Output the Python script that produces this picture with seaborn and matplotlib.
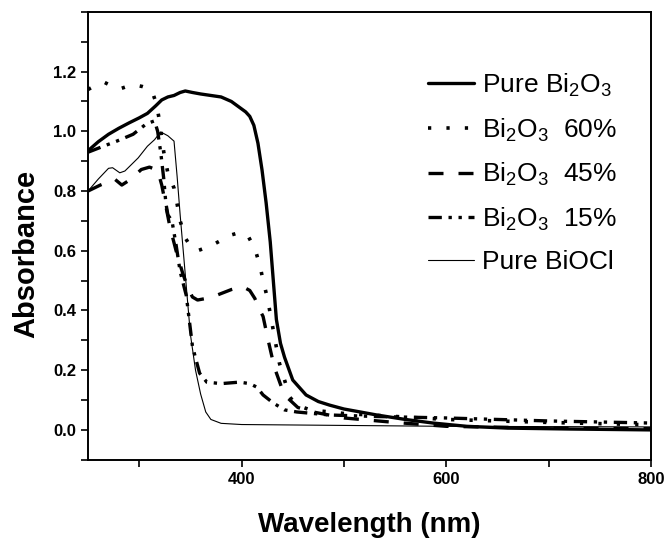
import numpy as np
import pandas as pd
import seaborn as sns
import matplotlib.pyplot as plt
from matplotlib.ticker import MultipleLocator

# UV-vis absorbance, values
wl_pure = [250, 260, 270, 280, 290, 300, 308, 316, 322, 328, 334, 340, 345, 352, 360, 370,
           380, 390, 398, 404, 408, 412, 416, 420, 424, 428, 431, 434, 438, 442, 450, 463,
           475, 486, 500, 532, 560, 587, 620, 660, 720, 800]
abs_pure = [0.935, 0.965, 0.99, 1.01, 1.028, 1.045, 1.06, 1.085, 1.105, 1.115, 1.12, 1.13,
            1.135, 1.13, 1.125, 1.12, 1.115, 1.1, 1.08, 1.065, 1.05, 1.02, 0.96, 0.87, 0.76,
            0.63, 0.5, 0.37, 0.29, 0.243, 0.167, 0.117, 0.095, 0.083, 0.07, 0.05, 0.035,
            0.023, 0.012, 0.006, 0.003, 0.0]

wl_60 = [250, 258, 266, 274, 281, 288, 296, 303, 310, 314, 317, 320, 324, 328, 334, 337,
         340, 345, 350, 357, 365, 372, 380, 387, 395, 401, 407, 413, 418, 421, 425, 428,
         431, 434, 437, 442, 447, 454, 467, 500, 550, 600, 700, 800]
abs_60 = [1.14, 1.155, 1.164, 1.15, 1.142, 1.15, 1.155, 1.15, 1.142, 1.12, 1.09, 1.03, 0.93,
          0.86, 0.81, 0.757, 0.7, 0.643, 0.615, 0.6, 0.61, 0.62, 0.635, 0.65, 0.658, 0.66,
          0.645, 0.607, 0.55, 0.5, 0.445, 0.39, 0.333, 0.277, 0.223, 0.167, 0.11, 0.083,
          0.067, 0.055, 0.045, 0.035, 0.025, 0.017]

wl_45 = [250, 262, 276, 283, 292, 302, 310, 318, 322, 326, 330, 336, 342, 347, 352, 357,
         365, 375, 390, 401, 408, 413, 418, 421, 426, 432, 439, 445, 455, 470, 500, 550,
         600, 700, 800]
abs_45 = [0.8, 0.82, 0.84, 0.82, 0.84, 0.872, 0.88, 0.87, 0.82, 0.75, 0.68, 0.6, 0.53, 0.48,
          0.445, 0.435, 0.44, 0.45, 0.47, 0.48, 0.467, 0.44, 0.4, 0.38, 0.3, 0.21, 0.143,
          0.107, 0.075, 0.06, 0.04, 0.025, 0.012, 0.006, 0.004]

wl_15 = [250, 265, 278, 294, 307, 315, 318, 321, 324, 326, 328, 332, 336, 340, 346, 352,
         359, 366, 380, 398, 408, 415, 421, 431, 442, 454, 486, 530, 600, 700, 800]
abs_15 = [0.93, 0.95, 0.967, 0.99, 1.025, 1.035, 1.0, 0.93, 0.84, 0.76, 0.72, 0.7, 0.62,
          0.53, 0.45, 0.28, 0.19, 0.16, 0.155, 0.16, 0.155, 0.143, 0.117, 0.09, 0.067,
          0.06, 0.05, 0.045, 0.04, 0.03, 0.023]

wl_biocl = [250, 260, 270, 274, 281, 286, 299, 308, 315, 321, 328, 334, 337, 340, 345,
            350, 355, 360, 365, 370, 380, 400, 500, 600, 800]
abs_biocl = [0.8, 0.84, 0.876, 0.878, 0.861, 0.867, 0.911, 0.95, 0.972, 0.998, 0.985, 0.967,
             0.85, 0.72, 0.52, 0.32, 0.2, 0.12, 0.06, 0.035, 0.022, 0.018, 0.015, 0.012, 0.01]

labels = ["Pure Bi$_2$O$_3$", "Bi$_2$O$_3$  60%", "Bi$_2$O$_3$  45%",
          "Bi$_2$O$_3$  15%", "Pure BiOCl"]

sns.set_style("ticks")
plt.rcParams['font.family'] = ['Liberation Sans', 'DejaVu Sans']
plt.rcParams['mathtext.fontset'] = 'custom'
plt.rcParams['mathtext.rm'] = 'Liberation Sans'
plt.rcParams['text.color'] = 'black'
plt.rcParams['axes.labelcolor'] = 'black'

fig = plt.figure(figsize=(6.67, 5.39), dpi=100)
ax = fig.add_axes([0.132, 0.147, 0.844, 0.831])

series = [
    (wl_pure, abs_pure, 2.4, '-'),
    (wl_60, abs_60, 2.6, (0, (0.9, 4.2))),
    (wl_45, abs_45, 2.4, (0, (4.5, 4.5))),
    (wl_15, abs_15, 2.4, (0, (4.0, 2.0, 1.0, 2.0, 1.0, 2.0))),
    (wl_biocl, abs_biocl, 0.8, '-'),
]
for (x, y, lw, ls), lab in zip(series, labels):
    sns.lineplot(x=x, y=y, ax=ax, color='black', lw=lw, linestyle=ls, label=lab)

ax.set_xlim(250, 800)
ax.set_ylim(-0.1, 1.4)
ax.xaxis.set_major_locator(MultipleLocator(200))
ax.xaxis.set_minor_locator(MultipleLocator(100))
ax.yaxis.set_minor_locator(MultipleLocator(0.1))
ax.set_yticks([0.0, 0.2, 0.4, 0.6, 0.8, 1.0, 1.2])
ax.set_yticklabels(['0.0', '0.2', '0.4', '0.6', '0.8', '1.0', '1.2'])
ax.tick_params(which='both', direction='out', length=5, width=1.2, colors='black')
for lbl in ax.get_xticklabels() + ax.get_yticklabels():
    lbl.set_fontsize(12)
    lbl.set_fontweight('bold')
for sp in ax.spines.values():
    sp.set_visible(True)
    sp.set_linewidth(1.4)
    sp.set_color('black')

ax.set_xlabel("Wavelength (nm)", fontsize=20, fontweight='bold', labelpad=18)
ax.set_ylabel("Absorbance", fontsize=21, fontweight='bold')
ax.yaxis.set_label_coords(-0.085, 0.46)

leg = ax.legend(loc='upper right', bbox_to_anchor=(0.982, 0.92), frameon=False,
                fontsize=19, handlelength=1.75, handletextpad=0.3, labelspacing=0.65)

fig.savefig("out.png", dpi=100)
